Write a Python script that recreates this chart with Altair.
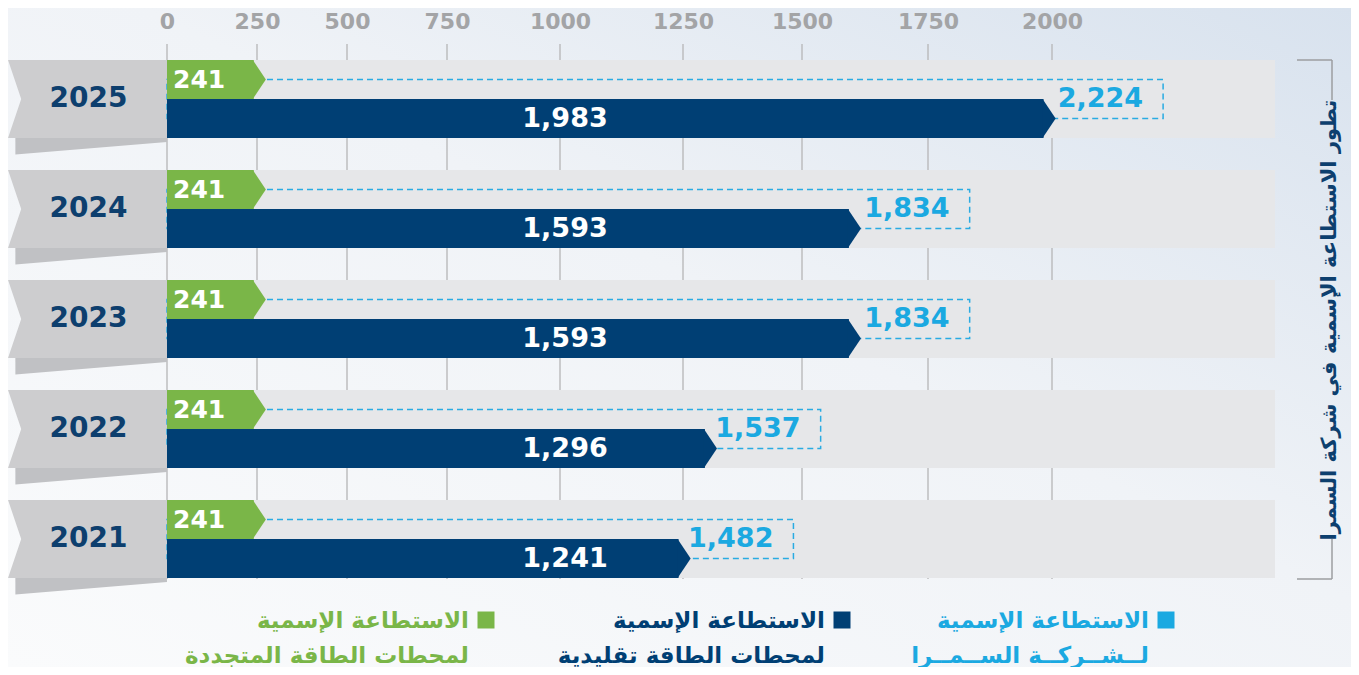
import altair as alt
import pandas as pd

# ---------------- data ----------------
years = ["2025", "2024", "2023", "2022", "2021"]
renewable = [241, 241, 241, 241, 241]
conventional = [1983, 1593, 1593, 1296, 1241]
total = [2224, 1834, 1834, 1537, 1482]
tick_values = [0, 250, 500, 750, 1000, 1250, 1500, 1750, 2000]

side_title = "تطور الاستطاعة الإسمية في شركة السمرا"
legend_line1 = ["الاستطاعة الإسمية", "الاستطاعة الإسمية", "الاستطاعة الإسمية"]
legend_line2 = ["لــشــركــة الســمــرا", "لمحطات الطاقة تقليدية", "لمحطات الطاقة المتجددة"]
legend_colors = ["#1ba9e1", "#003f74", "#7ab648"]

df = pd.DataFrame({"year": years, "renewable": renewable,
                   "conventional": conventional, "total": total})
ticks_df = pd.DataFrame({"tick": tick_values})

# ---------------- layout ----------------
W, H = 1108, 550
NAVY = "#003f74"
GREEN = "#7ab648"
CYAN = "#1ba9e1"
FONT = "DejaVu Sans"

# the source graphic uses an irregular (piecewise) axis
xscale = alt.Scale(domain=[0, 250, 500, 750, 1000, 1250, 1500, 1750, 2000, 2500],
                   range=[0, 90, 180, 280, 393, 516, 635, 761, 885, 1133],
                   nice=False, zero=False)
xaxis = alt.Axis(orient="top", values=tick_values, format="d", title=None,
                 labelFont=FONT, labelFontWeight="bold", labelFontSize=22,
                 labelColor="#a3a4a6", labelPadding=16, labelBaseline="alphabetic",
                 labelFlush=False, ticks=False, tickSize=0, domain=False, grid=False,
                 zindex=1)
yaxis = alt.Axis(orient="left", title=None, labelFont=FONT, labelFontWeight="bold",
                 labelFontSize=28, labelColor="#0d3f6e", labelAlign="center",
                 labelBaseline="middle", labelPadding=79, ticks=False, tickSize=0,
                 domain=False, grid=False, zindex=1)
Y = alt.Y("year:O", sort=years, scale=alt.Scale(paddingInner=0, paddingOuter=0),
          axis=yaxis)


def X(field):
    return alt.X(f"{field}:Q", scale=xscale, axis=xaxis, stack=None)


base = alt.Chart(df)

# background gradient
bg = alt.Chart(pd.DataFrame({"k": [0]})).mark_rect(
    color=alt.Gradient(gradient="linear",
                       stops=[alt.GradientStop(color="#fafbfc", offset=0),
                              alt.GradientStop(color="#f0f3f7", offset=0.55),
                              alt.GradientStop(color="#d8e2ee", offset=1)],
                       x1=0, y1=1, x2=1, y2=0)
).encode(x=alt.value(-159), x2=alt.value(1184), y=alt.value(-36), y2=alt.value(623))

# vertical grid lines (through the x scale)
grid = alt.Chart(ticks_df).mark_rule(color="#b9b9bb", strokeWidth=1.4).encode(
    x=X("tick"), y=alt.value(0), y2=alt.value(535))

# ribbon (year plate) + shadow
shadow = base.mark_point(shape="M-1.85,1L2.038,1L2.038,1.1L-1.85,1.42Z", size=6084,
                         filled=True, opacity=1, strokeWidth=0, color="#c0c1c4"
                         ).encode(x=alt.value(-79.5), y=Y)
ribbon = base.mark_point(shape="M-2.038,-1L2.038,-1L2.038,1L-2.038,1L-1.7,0Z", size=6084,
                         filled=True, opacity=1, strokeWidth=0, color="#cdcdcf"
                         ).encode(x=alt.value(-79.5), y=Y)

band = base.mark_bar(size=78, color="#e6e7e9").encode(
    x=alt.value(0), x2=alt.value(W), y=Y)

box = base.mark_bar(size=39, fillOpacity=0, stroke="#29abe2", strokeWidth=1.5,
                    strokeDash=[6, 4]).encode(x=X("total"), y=Y)

green_bar = base.mark_bar(size=39, yOffset=-19.5, color=GREEN).encode(
    x=X("renewable"), y=Y)
green_tip = base.mark_point(shape="M-0.05,-1L0.62,0L-0.05,1Z", size=1521, filled=True,
                            opacity=1, strokeWidth=0, color=GREEN, yOffset=-19.5
                            ).encode(x=X("renewable"), y=Y)

navy_bar = base.mark_bar(size=39, yOffset=19.5, color=NAVY).encode(
    x=X("conventional"), y=Y)
navy_tip = base.mark_point(shape="M-0.05,-1L0.62,0L-0.05,1Z", size=1521, filled=True,
                           opacity=1, strokeWidth=0, color=NAVY, yOffset=19.5
                           ).encode(x=X("conventional"), y=Y)

green_txt = base.mark_text(align="left", baseline="middle", dx=6, dy=-19.5, font=FONT,
                           fontWeight="bold", fontSize=25, color="white"
                           ).encode(x=alt.value(0), y=Y, text=alt.Text("renewable:Q", format=",d"))
navy_txt = base.mark_text(align="center", baseline="middle", dy=20, font=FONT,
                          fontWeight="bold", fontSize=27, color="white"
                          ).encode(x=alt.value(398), y=Y, text=alt.Text("conventional:Q", format=",d"))
total_txt = base.mark_text(align="right", baseline="middle", dx=-20, font=FONT,
                           fontWeight="bold", fontSize=27, color=CYAN
                           ).encode(x=X("total"), y=Y, text=alt.Text("total:Q", format=",d"))

# side title with bracket
one = alt.Chart(pd.DataFrame({"t": [side_title]}))
title_txt = one.mark_text(angle=270, align="center", baseline="middle", font=FONT,
                          fontWeight="bold", fontSize=21, color="#0d3f6e"
                          ).encode(x=alt.value(1163), y=alt.value(276), text="t:N")
br = dict(color="#9c9ea1", strokeWidth=1.5)
br1 = one.mark_rule(**br).encode(x=alt.value(1130), x2=alt.value(1165), y=alt.value(16))
br2 = one.mark_rule(**br).encode(x=alt.value(1165), y=alt.value(16), y2=alt.value(56))
br3 = one.mark_rule(**br).encode(x=alt.value(1165), y=alt.value(495), y2=alt.value(535))
br4 = one.mark_rule(**br).encode(x=alt.value(1130), x2=alt.value(1165), y=alt.value(535))

# custom legend (right-to-left, squares on the right of the text)
legend_layers = []
sq_x = [999, 675, 319]
for i in range(3):
    d = alt.Chart(pd.DataFrame({"label": [legend_line1[i] + "\n" + legend_line2[i]]}))
    legend_layers.append(d.mark_point(shape="square", size=289, filled=True, opacity=1,
                                      strokeWidth=0, color=legend_colors[i]
                                      ).encode(x=alt.value(sq_x[i]), y=alt.value(576)))
    legend_layers.append(d.mark_text(align="right", baseline="middle", lineBreak="\n",
                                     lineHeight=35, font=FONT, fontWeight="bold",
                                     fontSize=23, color=legend_colors[i]
                                     ).encode(x=alt.value(sq_x[i] - 17), y=alt.value(577),
                                              text="label:N"))

chart = alt.layer(
    bg, grid, shadow, ribbon, band, box, green_bar, green_tip, navy_bar, navy_tip,
    green_txt, navy_txt, total_txt, title_txt, br1, br2, br3, br4, *legend_layers
).properties(
    width=W, height=H,
    padding={"left": 159, "top": 36, "right": 76, "bottom": 73},
    autosize=alt.AutoSizeParams(type="none"),
    background="#f3f5f8",
).configure_view(stroke=None)

chart.save("out.html", embed_options={"renderer": "svg", "actions": False})
